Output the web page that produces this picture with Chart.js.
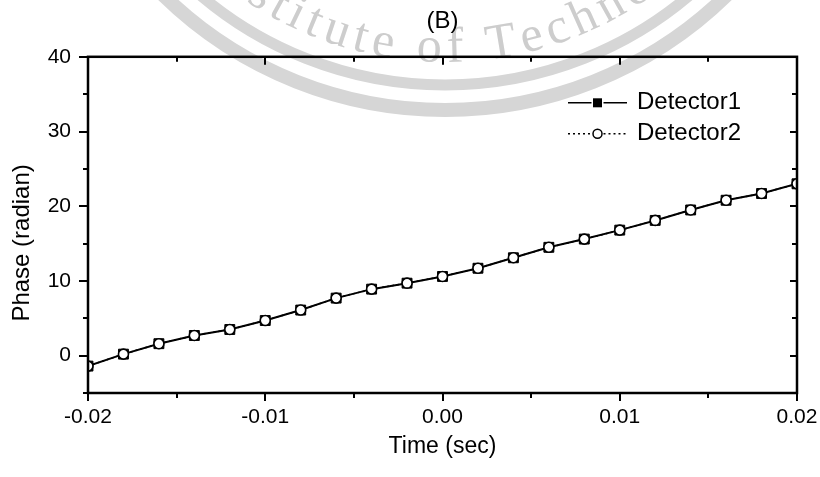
<!DOCTYPE html>
<html>
<head>
<meta charset="utf-8">
<script src="https://cdn.jsdelivr.net/npm/chart.js@4"></script>
<style>
html,body{margin:0;padding:0;background:#fff;}
#wrap{width:820px;height:477px;}
</style>
</head>
<body>
<div id="wrap"><canvas id="c" width="820" height="477"></canvas></div>
<script>
// ---- data ----
const timeSec = [-0.020,-0.018,-0.016,-0.014,-0.012,-0.010,-0.008,-0.006,-0.004,-0.002,0.000,0.002,0.004,0.006,0.008,0.010,0.012,0.014,0.016,0.018,0.020];
const detector1Phase = [-1.4,0.2,1.6,2.7,3.5,4.7,6.1,7.7,8.9,9.7,10.6,11.7,13.1,14.5,15.6,16.8,18.1,19.5,20.8,21.7,23.0];
const detector2Phase = [-1.4,0.2,1.6,2.7,3.5,4.7,6.1,7.7,8.9,9.7,10.6,11.7,13.1,14.5,15.6,16.8,18.1,19.5,20.8,21.7,23.0];
const xTickValues = [-0.02,-0.01,0.00,0.01,0.02];
const yTickValues = [0,10,20,30,40];
const seriesNames = ['Detector1','Detector2'];
const chartTitle = '(B)';
const xAxisTitle = 'Time (sec)';
const yAxisTitle = 'Phase (radian)';
const watermarkText = 'Institute of Technology';

const FONT = '"Liberation Sans", Arial, Helvetica, sans-serif';

// white background + faint seal watermark
const background = {
  id: 'background',
  beforeDraw(chart) {
    const ctx = chart.ctx;
    ctx.save();
    ctx.fillStyle = '#fff';
    ctx.fillRect(0, 0, chart.width, chart.height);
    const cx = 445, cy = -293;
    ctx.strokeStyle = '#d6d6d6';
    ctx.lineWidth = 11;
    ctx.beginPath(); ctx.arc(cx, cy, 378, 0, Math.PI); ctx.stroke();
    ctx.lineWidth = 14;
    ctx.beginPath(); ctx.arc(cx, cy, 403, 0, Math.PI); ctx.stroke();
    // curved text
    const R = 355, spacing = 6;
    ctx.font = '50px "Liberation Serif", "Times New Roman", serif';
    ctx.fillStyle = '#cdcdcd';
    ctx.textAlign = 'center';
    ctx.textBaseline = 'alphabetic';
    const chars = watermarkText.split('');
    const widths = chars.map(ch => ctx.measureText(ch).width + spacing);
    const ofIndex = watermarkText.indexOf(' of ') + 1;
    let cum = 0;
    const starts = widths.map(w => { const s = cum; cum += w; return s; });
    const ofMid = starts[ofIndex] + (widths[ofIndex] + widths[ofIndex + 1] - spacing) / 2;
    const s0 = (440 - cx) - ofMid;
    chars.forEach((ch, i) => {
      const s = s0 + starts[i] + (widths[i] - spacing) / 2;
      const a = s / R;
      const x = cx + R * Math.sin(a);
      const y = cy + R * Math.cos(a);
      ctx.save();
      ctx.translate(x, y);
      ctx.rotate(-a);
      ctx.fillText(ch, 0, 0);
      ctx.restore();
    });
    ctx.restore();
  }
};

// frame with major/minor ticks (outward on bottom/left, inward on top/right)
const frameTicks = {
  id: 'frameTicks',
  afterDatasetsDraw(chart) {
    const {ctx, chartArea: a, scales: {x, y}} = chart;
    ctx.save();
    ctx.strokeStyle = '#000';
    ctx.lineWidth = 2;
    const xt = [];
    for (let i = 0; i < xTickValues.length; i++) {
      xt.push([xTickValues[i], 8]);
      if (i < xTickValues.length - 1) xt.push([(xTickValues[i] + xTickValues[i + 1]) / 2, 5]);
    }
    const yt = [[yTickValues[0] - (yTickValues[1] - yTickValues[0]) / 2, 5]];
    for (let i = 0; i < yTickValues.length; i++) {
      yt.push([yTickValues[i], 9]);
      if (i < yTickValues.length - 1) yt.push([(yTickValues[i] + yTickValues[i + 1]) / 2, 5]);
    }
    ctx.beginPath();
    xt.forEach(([v, len]) => {
      const px = Math.round(x.getPixelForValue(v));
      ctx.moveTo(px, a.bottom); ctx.lineTo(px, a.bottom + len);
      ctx.moveTo(px, a.top); ctx.lineTo(px, a.top + len);
    });
    yt.forEach(([v, len]) => {
      const py = Math.round(y.getPixelForValue(v));
      ctx.moveTo(a.left, py); ctx.lineTo(a.left - len, py);
      ctx.moveTo(a.right, py); ctx.lineTo(a.right - Math.min(len, 7), py);
    });
    ctx.stroke();
    ctx.lineWidth = 2.5;
    ctx.strokeRect(a.left, a.top, a.right - a.left, a.bottom - a.top);
    ctx.restore();
  }
};

// y-axis title (rotated), placed slightly below the plot centre as in the reference
const yTitle = {
  id: 'yTitle',
  afterDraw(chart) {
    const {ctx, chartArea: a} = chart;
    ctx.save();
    ctx.translate(22, (a.top + a.bottom) / 2 + 18);
    ctx.rotate(-Math.PI / 2);
    ctx.fillStyle = '#000';
    ctx.font = '24px ' + FONT;
    ctx.textAlign = 'center';
    ctx.textBaseline = 'middle';
    ctx.fillText(yAxisTitle, 0, 0);
    ctx.restore();
  }
};

// in-plot legend: line + marker + label
const inLegend = {
  id: 'inLegend',
  afterDraw(chart) {
    const {ctx, chartArea: a} = chart;
    const ds = chart.data.datasets;
    ctx.save();
    const x0 = a.right - 229, x1 = a.right - 170, xm = (x0 + x1) / 2;
    ds.forEach((d, i) => {
      const yy = a.top + 46 + i * 31;
      ctx.strokeStyle = '#000';
      ctx.lineWidth = 1.5;
      ctx.setLineDash(d.borderDash || []);
      ctx.beginPath(); ctx.moveTo(x0, yy); ctx.lineTo(xm - 6, yy); ctx.moveTo(xm + 6, yy); ctx.lineTo(x1, yy); ctx.stroke();
      ctx.setLineDash([]);
      if (d.pointStyle === 'rect') {
        ctx.fillStyle = '#000';
        ctx.fillRect(xm - 4.5, yy - 4.5, 9, 9);
      } else {
        ctx.fillStyle = '#fff';
        ctx.lineWidth = 1.5;
        ctx.beginPath(); ctx.arc(xm, yy, 4.5, 0, Math.PI * 2); ctx.fill(); ctx.stroke();
      }
      ctx.fillStyle = '#000';
      ctx.font = '24px ' + FONT;
      ctx.textAlign = 'left';
      ctx.textBaseline = 'middle';
      ctx.fillText(d.label, a.right - 160, yy);
    });
    ctx.restore();
  }
};

const chart = new Chart(document.getElementById('c'), {
  type: 'line',
  data: {
    datasets: [
      {
        label: seriesNames[0],
        data: timeSec.map((t, i) => ({x: t, y: detector1Phase[i]})),
        borderColor: '#000', borderWidth: 2,
        pointStyle: 'rect', pointRadius: 7,
        pointBackgroundColor: '#000', pointBorderColor: '#000', pointBorderWidth: 1,
        tension: 0, order: 1
      },
      {
        label: seriesNames[1],
        data: timeSec.map((t, i) => ({x: t, y: detector2Phase[i]})),
        borderColor: '#000', borderWidth: 1.5, borderDash: [2, 3],
        pointStyle: 'circle', pointRadius: 5,
        pointBackgroundColor: '#fff', pointBorderColor: '#000', pointBorderWidth: 1.6,
        tension: 0, order: 0
      }
    ]
  },
  options: {
    responsive: false,
    animation: false,
    devicePixelRatio: 1,
    layout: {padding: {left: 0, right: 23, top: 0, bottom: 0}},
    plugins: {
      legend: {display: false},
      tooltip: {enabled: false},
      title: {
        display: true, text: chartTitle, color: '#000', fullSize: false,
        font: {family: FONT, size: 24, weight: 'normal'},
        padding: {top: 7, bottom: 21}
      }
    },
    scales: {
      x: {
        type: 'linear', min: -0.02, max: 0.02,
        afterBuildTicks: s => { s.ticks = xTickValues.map(v => ({value: v})); },
        afterFit: s => { s.height = 84; s.paddingLeft = 0; s.paddingRight = 0; },
        ticks: {
          callback: v => Number(v).toFixed(2),
          color: '#000', font: {family: FONT, size: 21},
          padding: 12, maxRotation: 0, autoSkip: false
        },
        grid: {display: false, drawTicks: false},
        border: {display: false},
        title: {
          display: true, text: xAxisTitle, color: '#000',
          font: {family: FONT, size: 23}, padding: {top: 0, bottom: 17}
        }
      },
      y: {
        type: 'linear', min: -5, max: 40,
        afterBuildTicks: s => { s.ticks = yTickValues.map(v => ({value: v})); },
        afterFit: s => { s.width = 88; s.paddingTop = 0; s.paddingBottom = 0; },
        ticks: {
          callback: v => String(v),
          color: '#000', font: {family: FONT, size: 21},
          padding: 17, autoSkip: false
        },
        grid: {display: false, drawTicks: false},
        border: {display: false},
        title: {display: false, text: yAxisTitle}
      }
    }
  },
  plugins: [background, frameTicks, yTitle, inLegend]
});
</script>
</body>
</html>
